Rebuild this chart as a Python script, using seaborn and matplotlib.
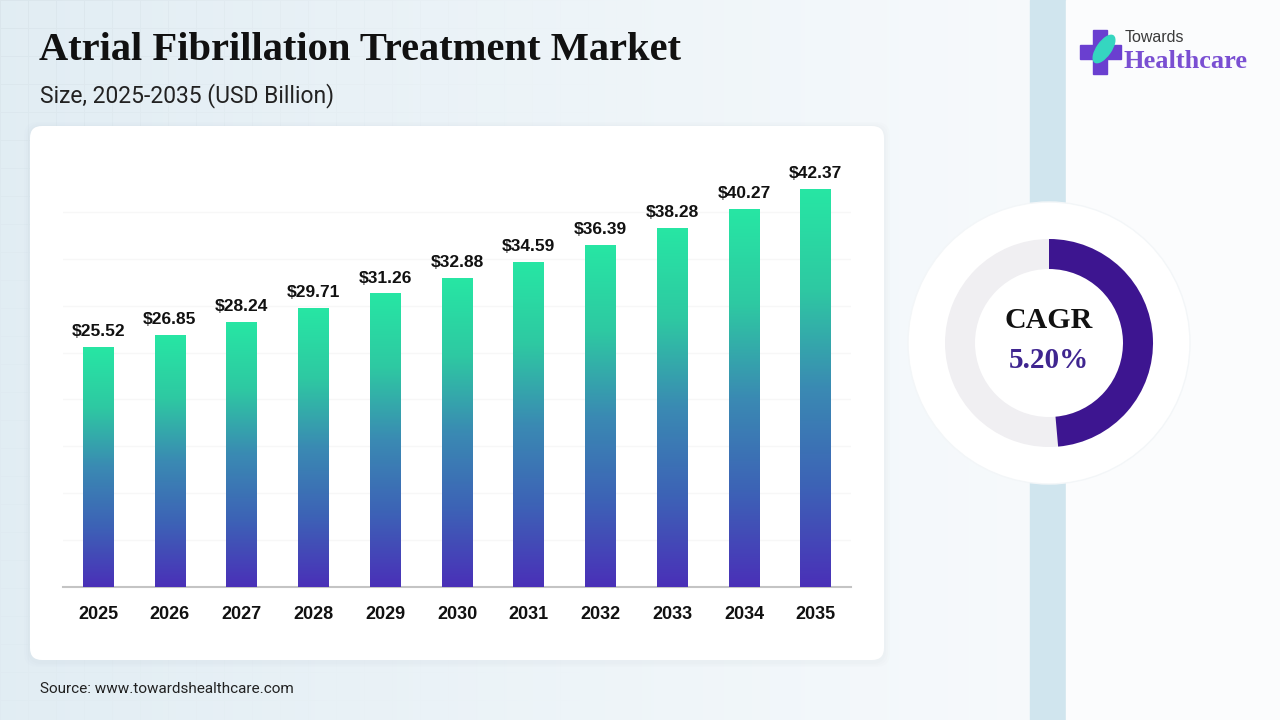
import numpy as np
import pandas as pd
import matplotlib
matplotlib.use("Agg")
import matplotlib.pyplot as plt
import seaborn as sns
from matplotlib.colors import LinearSegmentedColormap
from matplotlib.patches import FancyBboxPatch, Wedge, Circle, Rectangle, Ellipse

# dados do gráfico
anos = ["2025", "2026", "2027", "2028", "2029", "2030",
        "2031", "2032", "2033", "2034", "2035"]
valores = [25.52, 26.85, 28.24, 29.71, 31.26, 32.88,
           34.59, 36.39, 38.28, 40.27, 42.37]
rotulos = [f"${v:.2f}" for v in valores]
cagr_texto = "5.20%"
cagr_fracao = 0.486

titulo = "Atrial Fibrillation Treatment Market"
subtitulo = "Size, 2025-2035 (USD Billion)"
fonte = "Source: www.towardshealthcare.com"

df = pd.DataFrame({"Ano": anos, "Valor": valores})

sns.set_theme(style="white")
plt.rcParams['font.family'] = ['Liberation Sans', 'DejaVu Sans']

W, H = 1280, 720
fig = plt.figure(figsize=(12.8, 7.2), dpi=100)

# fundo decorativo em coordenadas de pixel
bg = fig.add_axes([0, 0, 1, 1], zorder=0)
bg.set_xlim(0, W)
bg.set_ylim(H, 0)
bg.axis("off")

xx, yy = np.meshgrid(np.arange(W), np.arange(H))
t = np.clip(xx / 1000.0, 0, 1)
c0 = np.array([0.885, 0.93, 0.955])
c1 = np.array([0.965, 0.978, 0.988])
img = c0[None, None, :] * (1 - t[..., None]) + c1[None, None, :] * t[..., None]
# grade suave no canto superior esquerdo
grade = ((xx % 28) < 1) | ((yy % 28) < 1)
fade = np.clip(1 - xx / 650.0, 0, 1) * np.clip(1 - yy / 400.0, 0.3, 1)
img = img - grade[..., None] * fade[..., None] * 0.03
bg.imshow(np.clip(img, 0, 1), extent=[0, W, H, 0], aspect="auto", zorder=0)

bg.add_patch(Rectangle((1030, 0), 36, H, color="#d0e5ee", zorder=1))
bg.add_patch(Rectangle((1066, 0), W - 1066, H, color="#fbfcfd", zorder=1))

# cartão branco com sombra
for i, a in enumerate([0.025, 0.02, 0.015]):
    bg.add_patch(FancyBboxPatch((30 - 2 - i * 2, 126 - 1 - i * 1.5), 854 + 4 + i * 4, 534 + 5 + i * 3,
                                boxstyle="round,pad=0,rounding_size=14",
                                fc="#9aa8b5", ec="none", alpha=a, zorder=2))
bg.add_patch(FancyBboxPatch((30, 126), 854, 534,
                            boxstyle="round,pad=0,rounding_size=12",
                            fc="white", ec="none", zorder=3))

# donut do CAGR
cx, cy = 1049, 343
bg.add_patch(Circle((cx, cy), 141, fc="white", ec="#f3f6f8", lw=1.0, zorder=3))
bg.add_patch(Wedge((cx, cy), 104, 0, 360, width=30, fc="#f0eff2", ec="none", zorder=4))
# eixo invertido em y: ângulos no sentido horário a partir do topo
ang_ini = -90
ang_fim = -90 + 360 * cagr_fracao
bg.add_patch(Wedge((cx, cy), 104, ang_ini, ang_fim, width=30, fc="#3d1590", ec="none", zorder=5))
bg.text(cx, 321, "CAGR", ha="center", va="center", fontsize=21.5, fontweight="bold",
        color="#111111", family=["Liberation Serif", "DejaVu Serif"], zorder=6)
bg.text(cx, 361, cagr_texto, ha="center", va="center", fontsize=21, fontweight="bold",
        color="#3f2590", family=["Liberation Serif", "DejaVu Serif"], zorder=6)

# logotipo
bg.add_patch(Rectangle((1093, 30), 14, 44, color="#6a3fd0", zorder=4))
bg.add_patch(Rectangle((1080, 45), 41, 14, color="#6a3fd0", zorder=4))
bg.add_patch(Ellipse((1104, 49), 14, 32, angle=35, color="#35d6c0", zorder=5))
bg.text(1125, 38, "Towards", ha="left", va="center", fontsize=11.5, color="#3a3a3a", zorder=6)
bg.text(1124, 62, "Healthcare", ha="left", va="center", fontsize=19, fontweight="bold",
        color="#7a4fd2", family=["Liberation Serif", "DejaVu Serif"], zorder=6)

# títulos
bg.text(39, 51, titulo, ha="left", va="center", fontsize=29.2, fontweight="bold",
        color="#111111", family=["Liberation Serif", "DejaVu Serif"], zorder=6)
bg.text(40, 96, subtitulo, ha="left", va="center", fontsize=16.5, color="#222222",
        family=["Roboto", "DejaVu Sans"], zorder=6)
bg.text(40, 689, fonte, ha="left", va="center", fontsize=11, color="#222222",
        family=["Roboto", "DejaVu Sans"], zorder=6)

# gráfico de barras
ax = fig.add_axes([63 / W, (H - 587) / H, 788 / W, 422 / H], zorder=5)
ax.patch.set_alpha(0)
sns.barplot(data=df, x="Ano", y="Valor", color="#2ae3a5", width=0.43, ax=ax, zorder=3)
ax.set_ylim(0, 45)
ax.set_xlim(-0.49, len(anos) - 0.51)

cmap = LinearSegmentedColormap.from_list("grad", ["#4a30b8", "#3d62b6", "#3a8ab3", "#2ec9a2", "#27e6a4"])
grad = np.linspace(0, 1, 256).reshape(-1, 1)
for p in ax.patches:
    x0, w, h = p.get_x(), p.get_width(), p.get_height()
    p.set_facecolor("none")
    p.set_edgecolor("none")
    ax.imshow(grad, cmap=cmap, origin="lower", aspect="auto",
              extent=[x0, x0 + w, 0, h], zorder=3)

for i, (v, r) in enumerate(zip(valores, rotulos)):
    ax.annotate(r, (i, v), xytext=(0, 6), textcoords="offset points",
                ha="center", va="bottom", fontsize=12.5, fontweight="bold", color="#111111")

ax.set_xlabel("")
ax.set_ylabel("")
ax.set_yticks(np.arange(5, 45, 5))
ax.yaxis.grid(True, color="#f7f7f7", lw=1, zorder=0)
ax.set_axisbelow(True)
ax.tick_params(axis="y", left=False, labelleft=False)
ax.tick_params(axis="x", bottom=False, pad=8, labelsize=13)
for lab in ax.get_xticklabels():
    lab.set_fontweight("bold")
    lab.set_color("#111111")
for s in ["top", "right", "left"]:
    ax.spines[s].set_visible(False)
ax.spines["bottom"].set_color("#c4c4c4")
ax.spines["bottom"].set_linewidth(1.5)

fig.savefig("out.png", dpi=100)
